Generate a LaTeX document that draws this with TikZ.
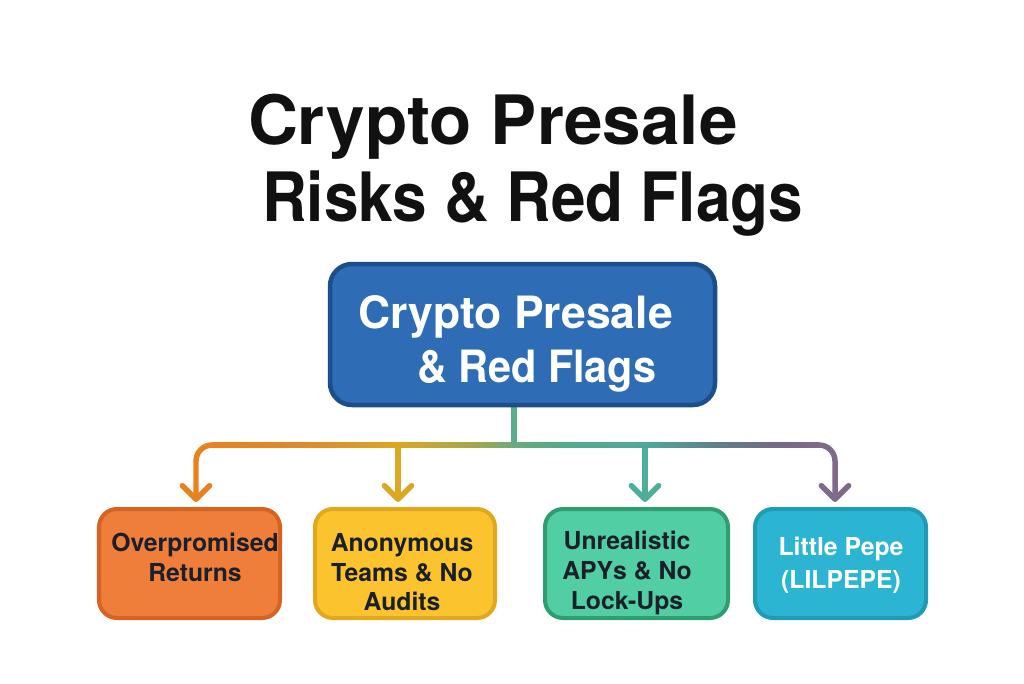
\documentclass[tikz,border=0pt]{standalone}
\usepackage{fontspec}
\setmainfont{TeX Gyre Heros}
\usepackage{graphicx}
\usetikzlibrary{arrows.meta,calc,backgrounds}

\definecolor{titlec}{HTML}{111111}
\definecolor{darktext}{HTML}{1B1F2A}
\definecolor{mainfill}{HTML}{2E6CB5}
\definecolor{mainborder}{HTML}{1D4E8C}
\definecolor{ofill}{HTML}{EF7E3A}
\definecolor{oborder}{HTML}{D8621F}
\definecolor{yfill}{HTML}{FBC42F}
\definecolor{yborder}{HTML}{E1A81F}
\definecolor{gfill}{HTML}{52CEA4}
\definecolor{gborder}{HTML}{2E9E72}
\definecolor{cfill}{HTML}{2CB5D2}
\definecolor{cborder}{HTML}{1E9BB7}
\definecolor{busA}{HTML}{E8821E}
\definecolor{busB}{HTML}{DD8A2A}
\definecolor{busC}{HTML}{D9A722}
\definecolor{busD}{HTML}{A9A64A}
\definecolor{busE}{HTML}{6BAA7A}
\definecolor{busF}{HTML}{52AA8C}
\definecolor{busG}{HTML}{4DA998}
\definecolor{busH}{HTML}{607C8B}
\definecolor{busI}{HTML}{776888}
\definecolor{busJ}{HTML}{806A8A}
\definecolor{stemc}{HTML}{59AD8A}
\definecolor{yline}{HTML}{DBA823}
\definecolor{tline}{HTML}{4EAE99}

\pgfdeclarehorizontalshading{busshade}{100bp}{color(0bp)=(busA); color(25bp)=(busA); color(32.2bp)=(busB); color(40.3bp)=(busC); color(46.3bp)=(busD); color(49.9bp)=(busE); color(53.7bp)=(busF); color(60.7bp)=(busG); color(66.8bp)=(busH); color(71.8bp)=(busI); color(75bp)=(busJ); color(100bp)=(busJ)}

\begin{document}
\begin{tikzpicture}[x=0.025cm,y=-0.025cm,
  titletext/.style={font=\fontsize{48.4}{55}\selectfont\bfseries, text=titlec, inner sep=0, outer sep=0},
  mainbox/.style={draw=mainborder, fill=mainfill, line width=3.2pt, rounded corners=0.55cm,
    minimum width=385*0.025cm, minimum height=141*0.025cm, inner sep=0, outer sep=0},
  maintext/.style={font=\fontsize{31.65}{38.4}\selectfont\bfseries, text=white, align=left, inner sep=0, outer sep=0},
  childbox/.style={line width=2.85pt, rounded corners=0.45cm, minimum height=109*0.025cm, inner sep=0, outer sep=0},
  childtext/.style={font=\fontsize{17.6}{21.3}\selectfont\bfseries, align=center, inner sep=0, outer sep=0, anchor=north, text=darktext},
  conn/.style={line width=3.9pt, -{Straight Barb[length=3.4mm,width=6.8mm,round]}}
]
\useasboundingbox (0,0) rectangle (1024,683);

% title
\node[titletext, anchor=base west] (title1) at (248,144) {\scalebox{1.017}[1]{Crypto Presale}};
\node[titletext, anchor=base west] (title2) at (262,221) {\scalebox{0.912}[1]{Risks \& Red Flags}};

% main box
\node[mainbox] (main) at (522.5,334.5) {};
\node[maintext, anchor=north west] (maintitle) at (358,296) {Crypto Presale\\\hspace*{42pt}\scalebox{0.93}[1]{\& Red Flags}};

% child boxes
\node[childbox, fill=ofill, draw=oborder, minimum width=181*0.025cm] (c1) at (189.5,563.5) {};
\node[childbox, fill=yfill, draw=yborder, minimum width=180*0.025cm] (c2) at (405,563.5) {};
\node[childbox, fill=gfill, draw=gborder, minimum width=183*0.025cm] (c3) at (636.5,563.5) {};
\node[childbox, fill=cfill, draw=cborder, minimum width=171*0.025cm] (c4) at (840.5,563.5) {};

\node[childtext] (t1) at (195,533) {Overpromised\\Returns};
\node[childtext] (t2) at (402,533) {Anonymous\\Teams \& No\\Audits};
\node[childtext] (t3) at (627,531) {Unrealistic\\APYs \& No\\Lock-Ups};
\node[childtext, text=white, font=\fontsize{17.6}{23.5}\selectfont\bfseries] (t4) at (841,537) {Little Pepe\\(LILPEPE)};

% connectors
\coordinate (hub) at (514,445);
\coordinate (d1) at (196,445);
\coordinate (d2) at (398,445);
\coordinate (d3) at (645,445);
\coordinate (d4) at (835,445);

\begin{pgfonlayer}{background}
\fill[white] (0,0) rectangle (1024,683);
\draw[conn, draw=busA, rounded corners=0.4cm] (hub) -- (d1) -- ($(d1 |- c1.north)+(0,-7)$);
\draw[conn, draw=busJ, rounded corners=0.4cm] (hub) -- (d4) -- ($(d4 |- c4.north)+(0,-7)$);
\draw[conn, draw=yline] (d2) -- ($(d2 |- c2.north)+(0,-7)$);
\draw[conn, draw=tline] (d3) -- ($(d3 |- c3.north)+(0,-7)$);
\shade[shading=busshade] (212,442.25) rectangle (819,447.75);
\draw[line width=3.9pt, draw=stemc] (main.south -| hub) -- (hub);
\end{pgfonlayer}
\end{tikzpicture}
\end{document}
